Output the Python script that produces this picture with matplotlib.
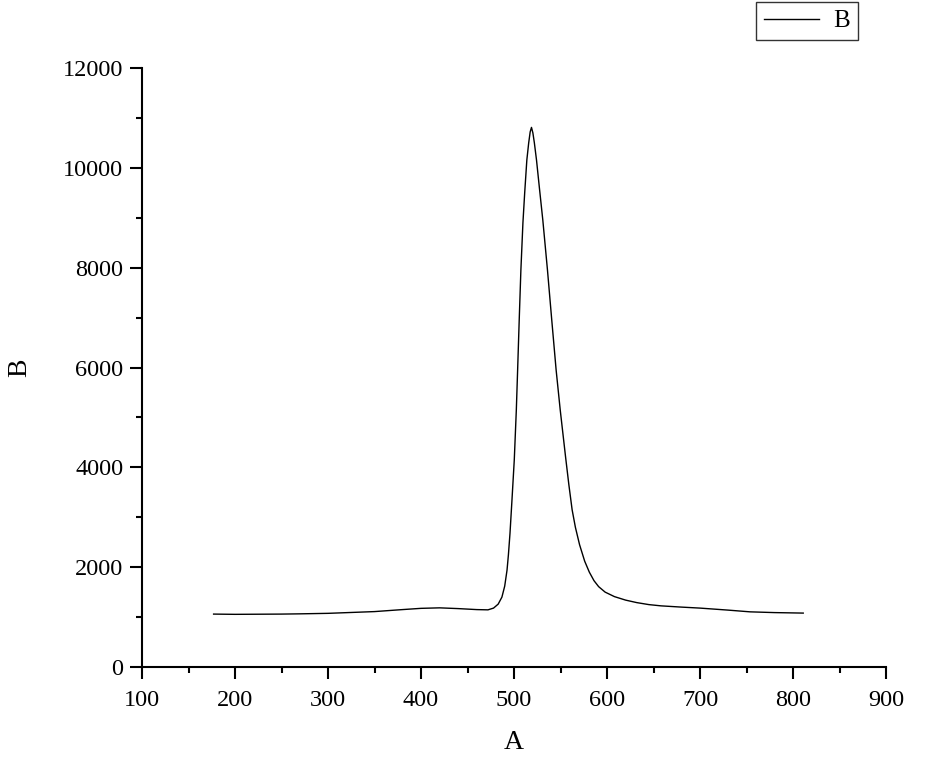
import matplotlib
matplotlib.use("Agg")
import matplotlib.pyplot as plt
from matplotlib.ticker import MultipleLocator

plt.rcParams['font.family'] = ['Liberation Serif', 'DejaVu Serif']

# Data
x_vals = [177, 200, 250, 270, 300, 350, 380, 400, 420, 440, 460, 472, 478,
          483, 487, 490, 492.5, 494, 495.7, 497.8, 500.3, 502.5, 503.9,
          505.6, 507.4, 509.6, 511.5, 513.8, 515.8, 517.4, 518.8, 520.3,
          521.9, 524.2, 527.3, 531.0, 536.0, 540.6, 545.3, 549.7, 555.5,
          559, 562.5, 566, 570.5, 576, 581, 586, 591, 598, 608, 620, 632,
          645, 658, 680, 700, 730, 753.8, 780, 811]
y_vals = [1060, 1055, 1060, 1065, 1075, 1110, 1150, 1175, 1185, 1170, 1150,
          1145, 1180, 1260, 1400, 1620, 1940, 2250, 2680, 3340, 4150, 5150,
          5950, 6950, 7950, 8900, 9500, 10156, 10500, 10720, 10810, 10700,
          10500, 10156, 9600, 8950, 7950, 6950, 5950, 5150, 4200,
          3650, 3150, 2800, 2450, 2120, 1900, 1730, 1610, 1500, 1410, 1340,
          1290, 1250, 1225, 1200, 1180, 1140, 1105, 1090, 1080]
series_name = "B"
x_label = "A"
y_label = "B"

fig = plt.figure(figsize=(9.3, 7.74), dpi=100)
ax = fig.add_axes([142/930, 1 - 667/774, (886-142)/930, (667-68)/774])

ax.plot(x_vals, y_vals, color='black', lw=1.0, label=series_name)

ax.set_xlim(100, 900)
ax.set_ylim(0, 12000)
ax.xaxis.set_major_locator(MultipleLocator(100))
ax.xaxis.set_minor_locator(MultipleLocator(50))
ax.yaxis.set_major_locator(MultipleLocator(2000))
ax.yaxis.set_minor_locator(MultipleLocator(1000))

for s in ['top', 'right']:
    ax.spines[s].set_visible(False)
for s in ['left', 'bottom']:
    ax.spines[s].set_linewidth(1.5)

ax.tick_params(which='major', direction='out', length=8.5, width=1.5,
               labelsize=17.5, pad=5)
ax.tick_params(which='minor', direction='out', length=4.5, width=1.5)
ax.tick_params(axis='x', which='major', pad=8)

ax.set_xlabel(x_label, fontsize=20, labelpad=14)
ax.set_ylabel(y_label, fontsize=20, labelpad=22)

leg = fig.legend(loc='upper right', bbox_to_anchor=(858/930, 1 - 2/774),
                 bbox_transform=fig.transFigure, borderaxespad=0,
                 fontsize=18, frameon=True, fancybox=False,
                 handlelength=2.2, handletextpad=0.6, borderpad=0.31)
leg.get_frame().set_edgecolor('black')
leg.get_frame().set_linewidth(1.0)

fig.savefig('out.png', dpi=100)
